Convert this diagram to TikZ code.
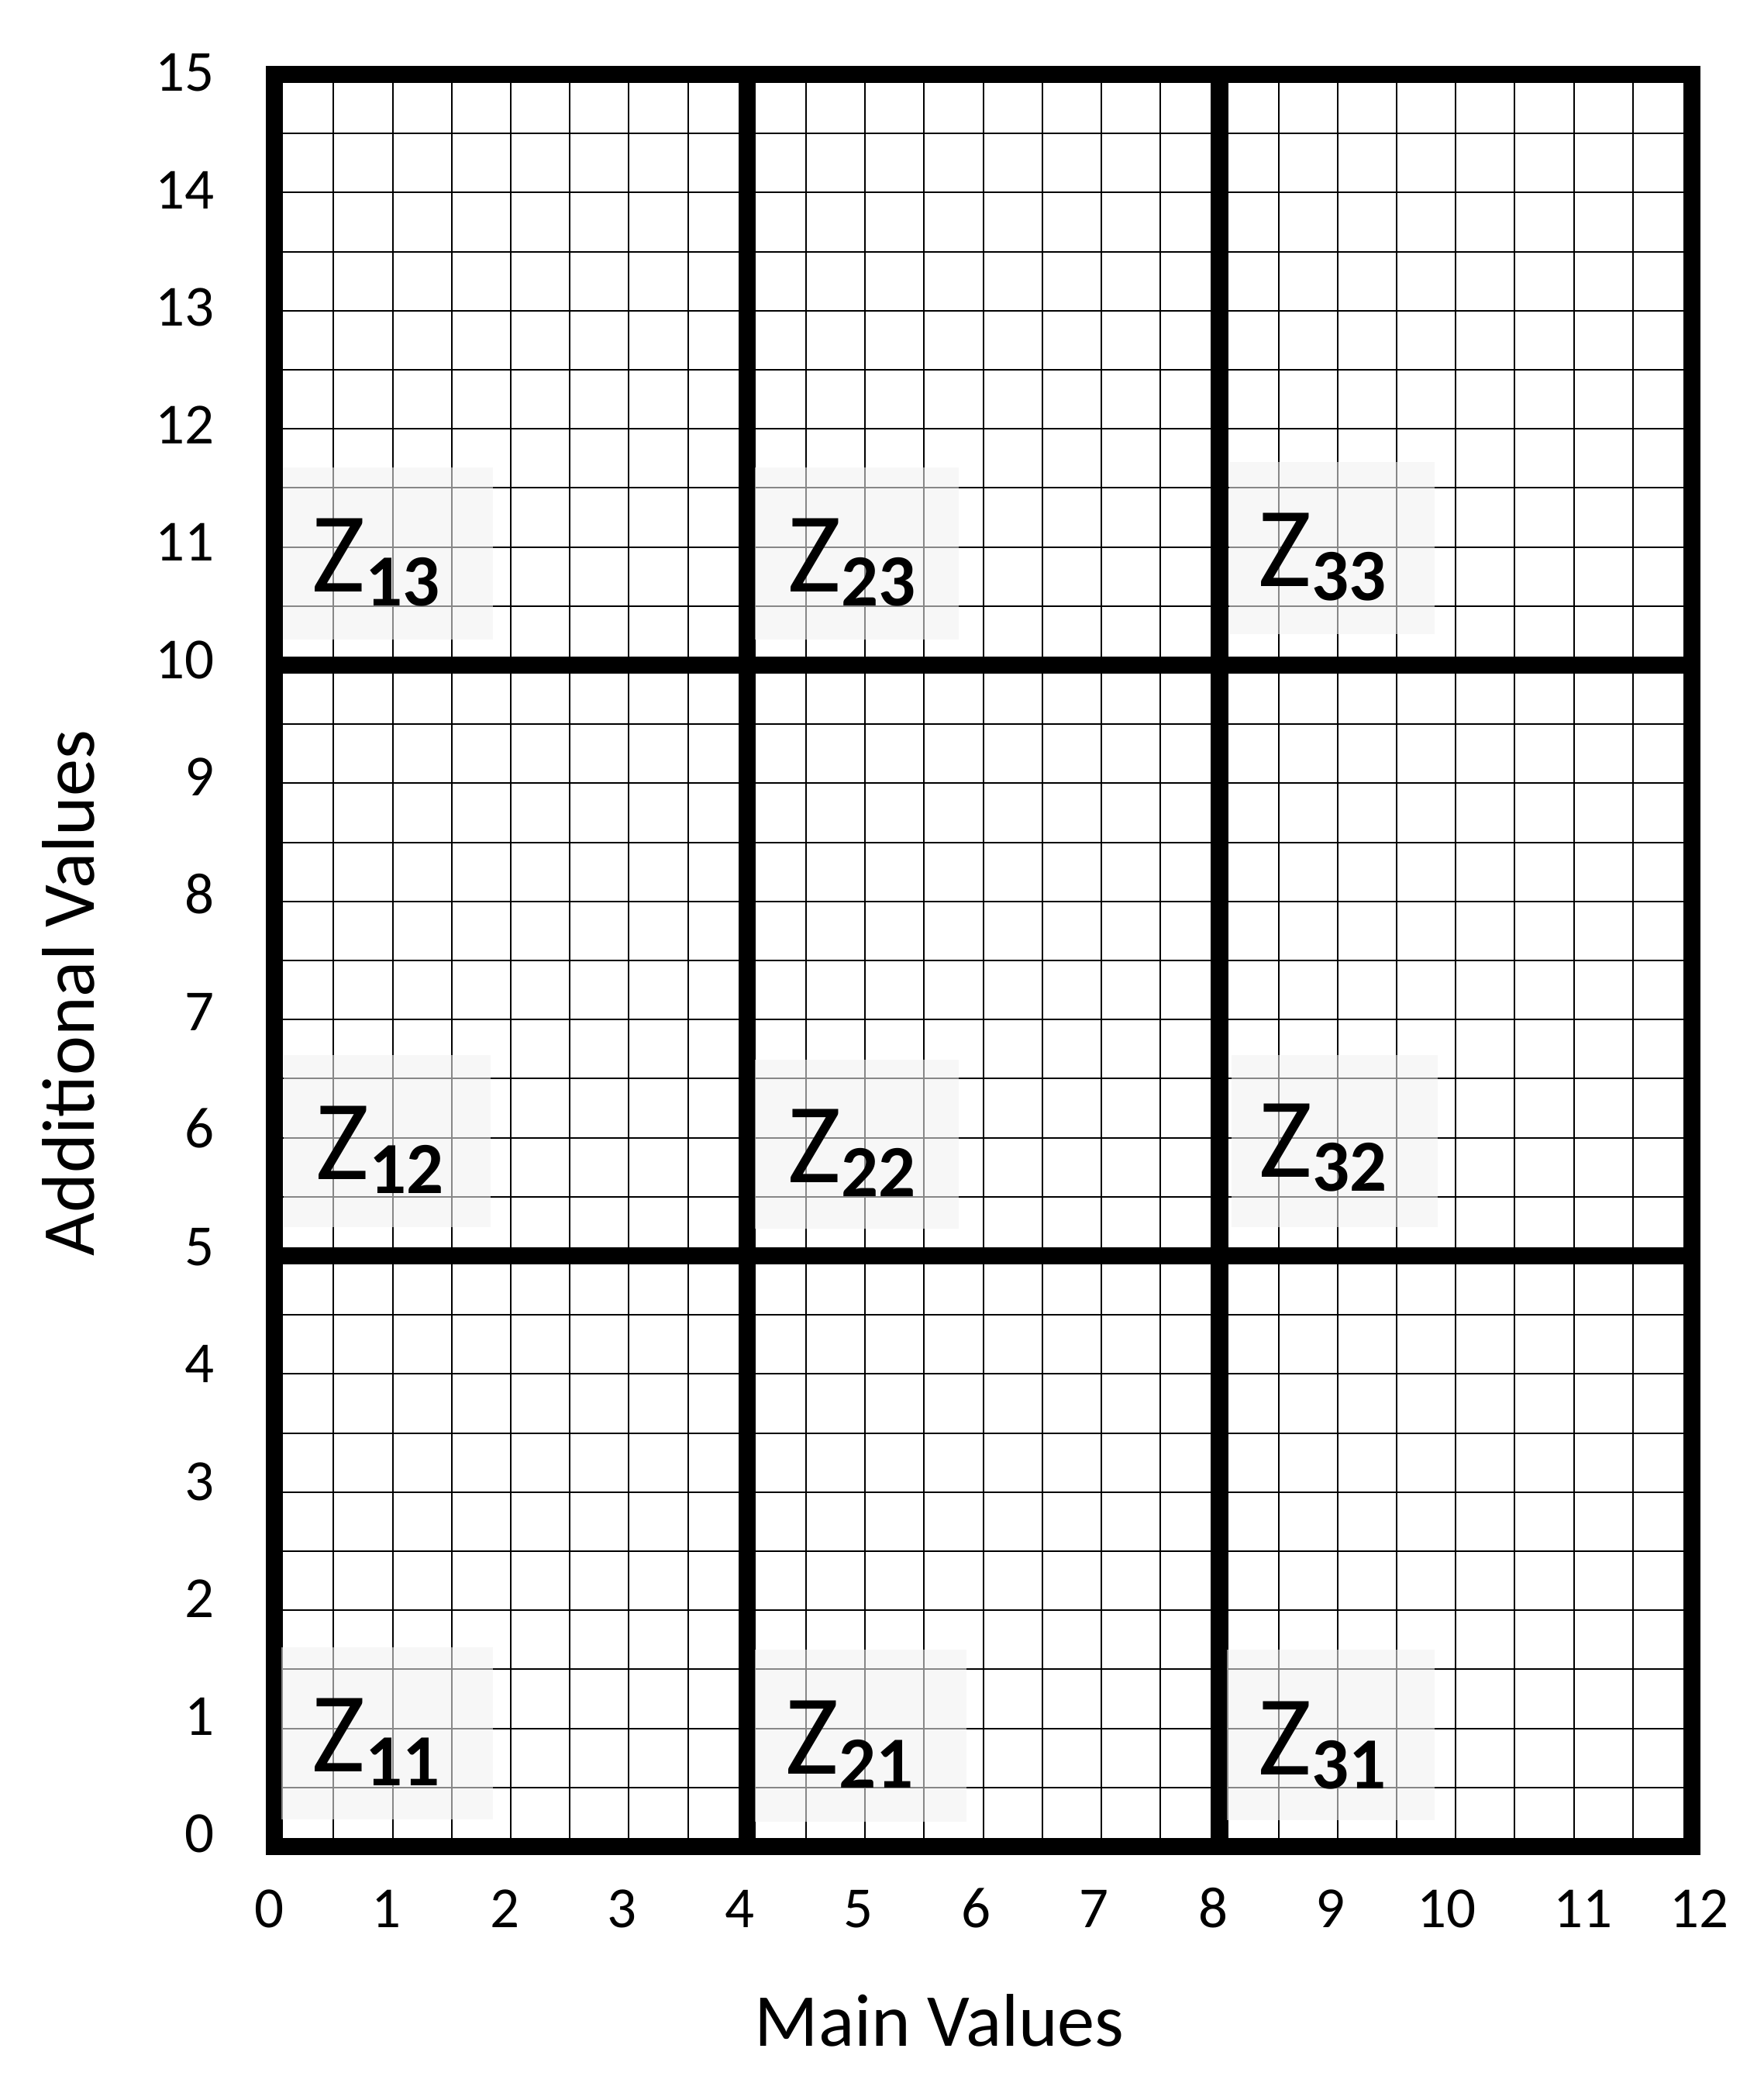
\documentclass[tikz,border=0pt]{standalone}
\usepackage{fontspec}
\setmainfont{Carlito}
\newcommand{\zsub}[1]{Z\raisebox{-0.118cm}{\fontsize{17.7}{20}\selectfont\bfseries #1}}
\begin{document}
\begin{tikzpicture}[x=1cm,y=1cm,
  fine/.style={line width=0.38pt, black},
  frameline/.style={line width=4.2pt, black},
  shadebox/.style={fill=black!6, fill opacity=0.565, draw=none},
  zlabel/.style={anchor=base west, inner sep=0pt, font=\fontsize{27.5}{30}\selectfont},
  ytick/.style={anchor=base east, inner sep=0pt, font=\fontsize{14}{16}\selectfont},
  xtick/.style={anchor=base, inner sep=0pt, font=\fontsize{14}{16}\selectfont},
  axtitle/.style={anchor=base, inner sep=0pt, font=\fontsize{18}{20}\selectfont}]
\useasboundingbox (-2.324,-1.942) rectangle (12.604,15.630);
% fine grid
\draw[fine] (0,0) grid[step=0.5] (12,15);
% thick block lines
\draw[frameline] (0,0) rectangle (12,15);
\foreach \x in {4,8} \draw[frameline] (\x,0) -- (\x,15);
\foreach \y in {5,10} \draw[frameline] (0,\y) -- (12,\y);
% shaded label boxes
\fill[shadebox] (0.07,10.217) rectangle (1.85,11.673);
\fill[shadebox] (4.07,10.217) rectangle (5.79,11.673);
\fill[shadebox] (8.08,10.261) rectangle (9.82,11.718);
\fill[shadebox] (0.08,5.240) rectangle (1.83,6.697);
\fill[shadebox] (4.07,5.230) rectangle (5.79,6.660);
\fill[shadebox] (8.10,5.240) rectangle (9.85,6.697);
\fill[shadebox] (0.06,0.231) rectangle (1.85,1.688);
\fill[shadebox] (4.07,0.208) rectangle (5.86,1.665);
\fill[shadebox] (8.06,0.223) rectangle (9.82,1.667);
% Z labels
\node[zlabel] (z13) at (0.31,10.618) {\zsub{13}};
\node[zlabel] (z23) at (4.34,10.618) {\zsub{23}};
\node[zlabel] (z33) at (8.32,10.663) {\zsub{33}};
\node[zlabel] (z12) at (0.34,5.644) {\zsub{12}};
\node[zlabel] (z22) at (4.34,5.623) {\zsub{22}};
\node[zlabel] (z32) at (8.33,5.667) {\zsub{32}};
\node[zlabel] (z11) at (0.31,0.634) {\zsub{11}};
\node[zlabel] (z21) at (4.32,0.612) {\zsub{21}};
\node[zlabel] (z31) at (8.32,0.606) {\zsub{31}};
% y ticks
\foreach \v in {0,...,15} \node[ytick] (yt\v) at (-0.50,{0.108+0.9937*\v-0.158}) {\v};
% x ticks
\foreach \v/\p in {0/-0.045,1/0.95,2/1.95,3/2.94,4/3.94,5/4.94,6/5.94,7/6.94,8/7.95,9/8.94,10/9.92,11/11.08,12/12.06}
  \node[xtick] (xt\v) at (\p,-0.688) {\v};
% axis titles
\node[axtitle] (xtitle) at (5.63,-1.687) {Main Values};
\node[axtitle, rotate=90] (ytitle) at (-1.53,7.224) {Additional Values};
\end{tikzpicture}
\end{document}
